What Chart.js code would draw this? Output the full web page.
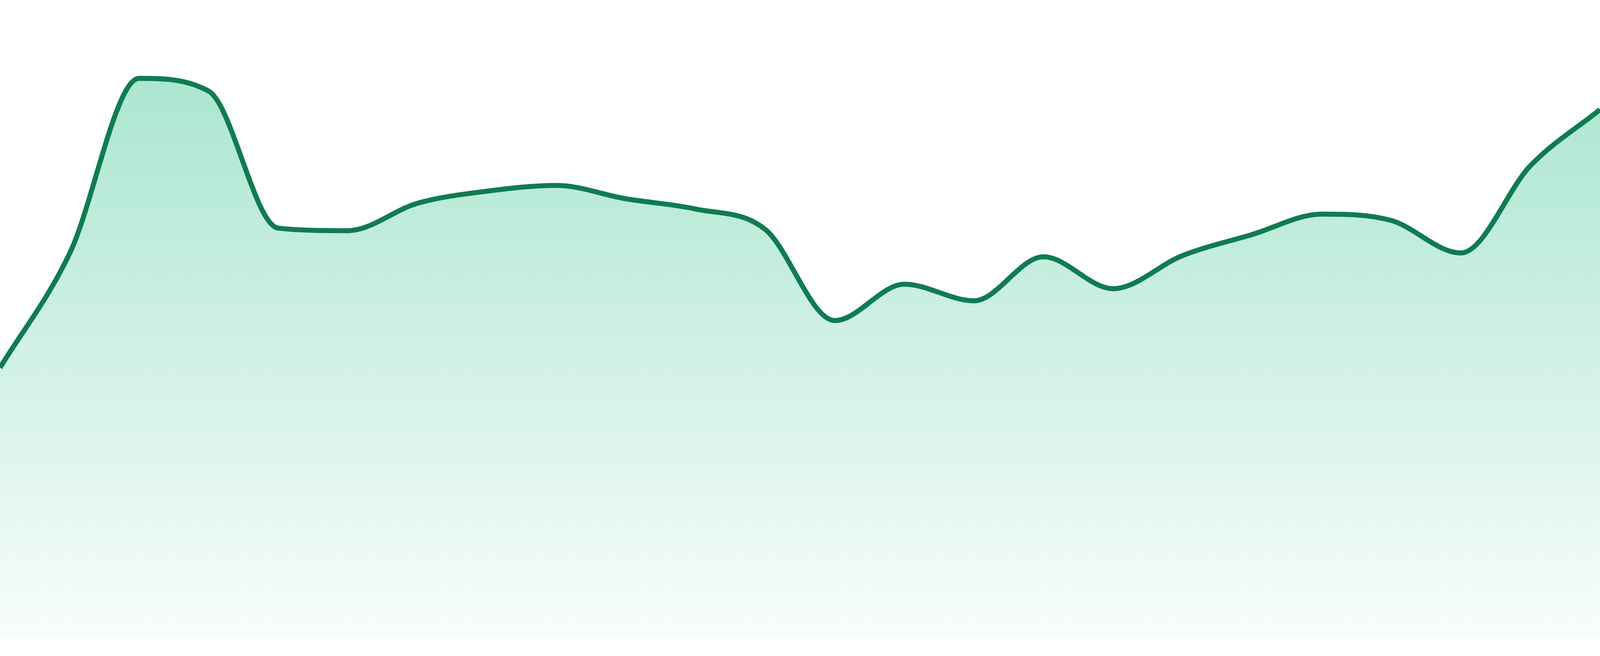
<!DOCTYPE html>
<html>
<head>
<meta charset="utf-8">
<script src="https://cdn.jsdelivr.net/npm/chart.js@4.4.1/dist/chart.umd.min.js"></script>
<style>
  html, body { margin: 0; padding: 0; background: #fff; overflow: hidden; }
  #wrap { width: 100vw; height: 100vh; position: relative; }
</style>
</head>
<body>
<div id="wrap"><canvas id="areaChart"></canvas></div>
<script>
// 24 evenly spaced samples, no visible axes
const labels = ["1", "2", "3", "4", "5", "6", "7", "8", "9", "10", "11", "12",
  "13", "14", "15", "16", "17", "18", "19", "20", "21", "22", "23", "24"];
const values = [42.3, 60.2, 87.7, 85.7, 64.2, 63.8, 68.1, 70.0, 70.9, 68.8, 67.2, 64.0,
  49.7, 55.4, 52.8, 59.7, 54.7, 59.9, 63.2, 66.4, 65.4, 60.3, 74.0, 82.8];
const yMin = 0;
const yMax = 100;

document.addEventListener("DOMContentLoaded", function () {
  const ctx = document.getElementById("areaChart").getContext("2d");

  // sizes were measured on the 4800x1680 picture, scale them to the real viewport
  const sx = window.innerWidth / 4800;
  const sy = window.innerHeight / 1680;

  function fillGradient(context) {
    const chart = context.chart;
    const area = chart.chartArea;
    if (!area) return null;
    const g = chart.ctx.createLinearGradient(0, area.top, 0, area.bottom);
    g.addColorStop(0, "rgba(18, 184, 122, 0.40)");
    g.addColorStop(1, "rgba(18, 184, 122, 0.03)");
    return g;
  }

  new Chart(ctx, {
    type: "line",
    data: {
      labels: labels,
      datasets: [{
        data: values,
        borderColor: "#107b52",
        borderWidth: 15 * sx,
        backgroundColor: fillGradient,
        fill: "start",
        pointRadius: 0,
        cubicInterpolationMode: "monotone"
      }]
    },
    options: {
      responsive: true,
      maintainAspectRatio: false,
      animation: false,
      layout: { padding: { top: 0, right: 0, bottom: 48 * sy, left: 0 } },
      scales: {
        x: { display: false, offset: false },
        y: { display: false, min: yMin, max: yMax }
      },
      plugins: {
        legend: { display: false },
        tooltip: { enabled: false }
      }
    }
  });
});
</script>
</body>
</html>
